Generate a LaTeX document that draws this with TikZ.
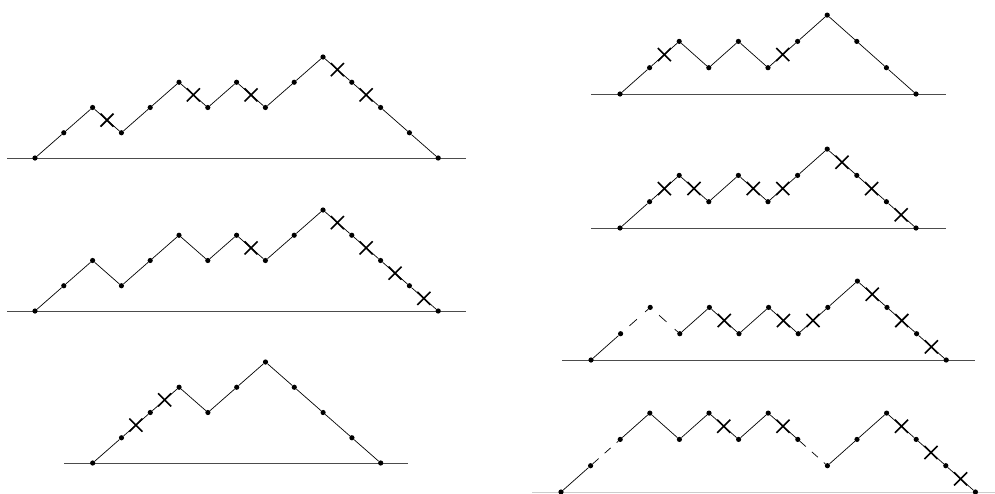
\documentclass[tikz,border=0pt]{standalone}
\usetikzlibrary{shapes.misc}
\tikzset{
  mdot/.style={circle,fill=black,inner sep=0pt,minimum size=5.2pt},
  mcross/.style={cross out,draw=black,line width=1.6pt,minimum size=11.5pt,inner sep=0pt},
  seg/.style={line width=0.7pt},
  dsegA/.style={line width=0.7pt,dash pattern=on 10pt off 11pt,dash phase=12pt},
  dsegB/.style={line width=0.7pt,dash pattern=on 8pt off 8pt},
  baseln/.style={line width=1pt,draw=black!70},
}
\begin{document}
\begin{tikzpicture}[x=1pt,y=-1pt]
\useasboundingbox (0,0) rectangle (995,493);
% ---------- A (left top)
\coordinate (LA1) at (7,158); \coordinate (LA2) at (466,158);
\draw[baseln] (LA1) -- (LA2);
\foreach \k/\hh in {0/0,1/1,2/2,3/1,4/2,5/3,6/2,7/3,8/2,9/3,10/4,11/3,12/2,13/1,14/0}
  {\node[mdot] (A\k) at ({35+\k*28.8},{158-\hh*25.25}) {};}
\foreach \k [evaluate=\k as \m using int(\k-1)] in {1,...,14}
  {\draw[seg] (A\m) -- (A\k);}
\foreach \k [evaluate=\k as \m using int(\k-1)] in {3,6,8,11,12}
  {\path (A\m) -- node[mcross]{} (A\k);}
% ---------- B (left middle)
\coordinate (LB1) at (7,311); \coordinate (LB2) at (466,311);
\draw[baseln] (LB1) -- (LB2);
\foreach \k/\hh in {0/0,1/1,2/2,3/1,4/2,5/3,6/2,7/3,8/2,9/3,10/4,11/3,12/2,13/1,14/0}
  {\node[mdot] (B\k) at ({35+\k*28.8},{311-\hh*25.25}) {};}
\foreach \k [evaluate=\k as \m using int(\k-1)] in {1,...,14}
  {\draw[seg] (B\m) -- (B\k);}
\foreach \k [evaluate=\k as \m using int(\k-1)] in {8,11,12,13,14}
  {\path (B\m) -- node[mcross]{} (B\k);}
% ---------- C (left bottom)
\coordinate (LC1) at (64,463); \coordinate (LC2) at (408,463);
\draw[baseln] (LC1) -- (LC2);
\foreach \k/\hh in {0/0,1/1,2/2,3/3,4/2,5/3,6/4,7/3,8/2,9/1,10/0}
  {\node[mdot] (C\k) at ({92.7+\k*28.8},{463-\hh*25.25}) {};}
\foreach \k [evaluate=\k as \m using int(\k-1)] in {1,...,10}
  {\draw[seg] (C\m) -- (C\k);}
\foreach \k [evaluate=\k as \m using int(\k-1)] in {2,3}
  {\path (C\m) -- node[mcross]{} (C\k);}
% ---------- D (right 1)
\coordinate (LD1) at (591,94); \coordinate (LD2) at (946,94);
\draw[baseln] (LD1) -- (LD2);
\foreach \k/\hh in {0/0,1/1,2/2,3/1,4/2,5/1,6/2,7/3,8/2,9/1,10/0}
  {\node[mdot] (D\k) at ({620+\k*29.6},{94-\hh*26.3}) {};}
\foreach \k [evaluate=\k as \m using int(\k-1)] in {1,...,10}
  {\draw[seg] (D\m) -- (D\k);}
\foreach \k [evaluate=\k as \m using int(\k-1)] in {2,6}
  {\path (D\m) -- node[mcross]{} (D\k);}
% ---------- E (right 2)
\coordinate (LE1) at (591,228); \coordinate (LE2) at (946,228);
\draw[baseln] (LE1) -- (LE2);
\foreach \k/\hh in {0/0,1/1,2/2,3/1,4/2,5/1,6/2,7/3,8/2,9/1,10/0}
  {\node[mdot] (E\k) at ({620+\k*29.6},{228-\hh*26.3}) {};}
\foreach \k [evaluate=\k as \m using int(\k-1)] in {1,...,10}
  {\draw[seg] (E\m) -- (E\k);}
\foreach \k [evaluate=\k as \m using int(\k-1)] in {2,3,5,6,8,9,10}
  {\path (E\m) -- node[mcross]{} (E\k);}
% ---------- F (right 3)
\coordinate (LF1) at (562,360); \coordinate (LF2) at (975,360);
\draw[baseln] (LF1) -- (LF2);
\foreach \k/\hh in {0/0,1/1,2/2,3/1,4/2,5/1,6/2,7/1,8/2,9/3,10/2,11/1,12/0}
  {\node[mdot] (F\k) at ({591+\k*29.6},{360-\hh*26.3}) {};}
\foreach \k [evaluate=\k as \m using int(\k-1)] in {1,4,5,6,7,8,9,10,11,12}
  {\draw[seg] (F\m) -- (F\k);}
\foreach \k [evaluate=\k as \m using int(\k-1)] in {2,3}
  {\draw[dsegA] (F\m) -- (F\k);}
\foreach \k [evaluate=\k as \m using int(\k-1)] in {5,7,8,10,11,12}
  {\path (F\m) -- node[mcross]{} (F\k);}
% ---------- G (right 4)
\coordinate (LG1) at (532,492.6); \coordinate (LG2) at (995,492.6);
\draw[line width=1pt,draw=black!20] (LG1) -- (LG2);
\foreach \k/\hh in {0/0,1/1,2/2,3/3,4/2,5/3,6/2,7/3,8/2,9/1,10/2,11/3,12/2,13/1,14/0}
  {\node[mdot] (G\k) at ({561+\k*29.6},{492-\hh*26.3}) {};}
\foreach \k [evaluate=\k as \m using int(\k-1)] in {1,3,4,5,6,7,8,10,11,12,13,14}
  {\draw[seg] (G\m) -- (G\k);}
\foreach \k [evaluate=\k as \m using int(\k-1)] in {2,9}
  {\draw[dsegB] (G\m) -- (G\k);}
\foreach \k [evaluate=\k as \m using int(\k-1)] in {6,8,12,13,14}
  {\path (G\m) -- node[mcross]{} (G\k);}
\end{tikzpicture}
\end{document}
